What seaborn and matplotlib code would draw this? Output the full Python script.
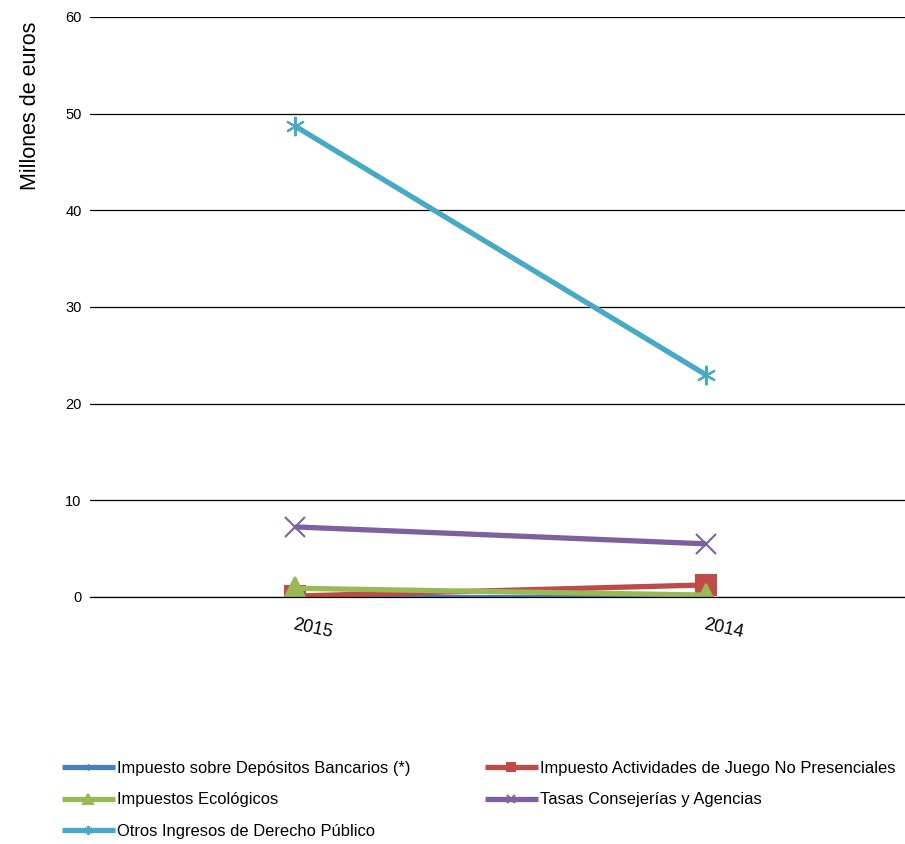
import pandas as pd
import matplotlib
matplotlib.use('Agg')
import matplotlib.pyplot as plt
import seaborn as sns

sns.set_style("white")
plt.rcParams['font.family'] = ['Liberation Sans', 'DejaVu Sans']
plt.rcParams['text.color'] = 'black'
plt.rcParams['axes.labelcolor'] = 'black'
plt.rcParams['xtick.color'] = 'black'
plt.rcParams['ytick.color'] = 'black'

years = ['2015', '2014']
series = ['Impuesto sobre Depósitos Bancarios (*)',
          'Impuesto Actividades de Juego No Presenciales',
          'Impuestos Ecológicos',
          'Tasas Consejerías y Agencias',
          'Otros Ingresos de Derecho Público']
depositos = [0.0, 0.0]
juego = [0.1, 1.25]
ecologicos = [0.9, 0.2]
tasas = [7.25, 5.5]
otros = [48.7, 23.0]

colors = ['#4A7EBB', '#BE4B48', '#98B954', '#7D60A0', '#46AAC5']
markers = ['D', 's', '^', 'x', (6, 2, 0)]
msizes = [5, 14, 16, 14, 14]

df = pd.DataFrame({
    'Año': years * 5,
    'Serie': sum([[s] * 2 for s in series], []),
    'Valor': depositos + juego + ecologicos + tasas + otros,
})
df['x'] = df['Año'].map({y: i for i, y in enumerate(years)})

fig = plt.figure(figsize=(9.05, 8.44), dpi=100)
ax = fig.add_axes([90 / 905, 1 - 597 / 844, 821 / 905, 580 / 844])

sns.lineplot(data=df, x='x', y='Valor', hue='Serie', hue_order=series,
             palette=dict(zip(series, colors)),
             linewidth=3.8, ax=ax, legend=False)

# Excel-style markers set on each line afterwards
for line, s, c, m, ms in zip(ax.lines, series, colors, markers, msizes):
    line.set_marker(m)
    line.set_markersize(ms)
    line.set_markerfacecolor(c)
    line.set_markeredgecolor(c)
    line.set_markeredgewidth(1.5)
    line.set_solid_capstyle('butt')
    line.set_label(s)

ax.set_xlim(-0.5, 1.5)
ax.set_ylim(0, 60)
ax.set_yticks(range(0, 61, 10))
ax.set_xticks([0, 1])
ax.set_xticklabels(years, rotation=-12, fontsize=13, ha='left',
                   rotation_mode='anchor')
ax.set_xticks([-0.5, 0.5, 1.5], minor=True)
ax.tick_params(axis='x', which='major', length=0, pad=14)
ax.tick_params(axis='x', which='minor', length=6, width=1.2, color='black', direction='out')
ax.tick_params(axis='y', length=0, labelsize=10.5, pad=6)
ax.yaxis.grid(True, color='black', linewidth=0.9)
for side in ['top', 'right', 'left']:
    ax.spines[side].set_visible(False)
ax.spines['bottom'].set_color('black')
ax.spines['bottom'].set_linewidth(0.9)
ax.set_xlabel('')
ax.set_ylabel('Millones de euros', fontsize=15.5)
ax.yaxis.set_label_coords(-49 / 821, (597 - 106) / 580)

# legend filled column-wise: reorder so rows read as in the reference
order = [0, 2, 4, 1, 3]
handles = [ax.lines[i] for i in order]
labels = [series[i] for i in order]
fig.legend(handles, labels, loc='upper left', bbox_to_anchor=(47 / 905, 1 - 746 / 844),
           ncol=2, frameon=False, fontsize=11.9, handlelength=3.2,
           handletextpad=0.15, columnspacing=4.5, labelspacing=1.0,
           markerscale=0.45)

fig.savefig('out.png', dpi=100)
